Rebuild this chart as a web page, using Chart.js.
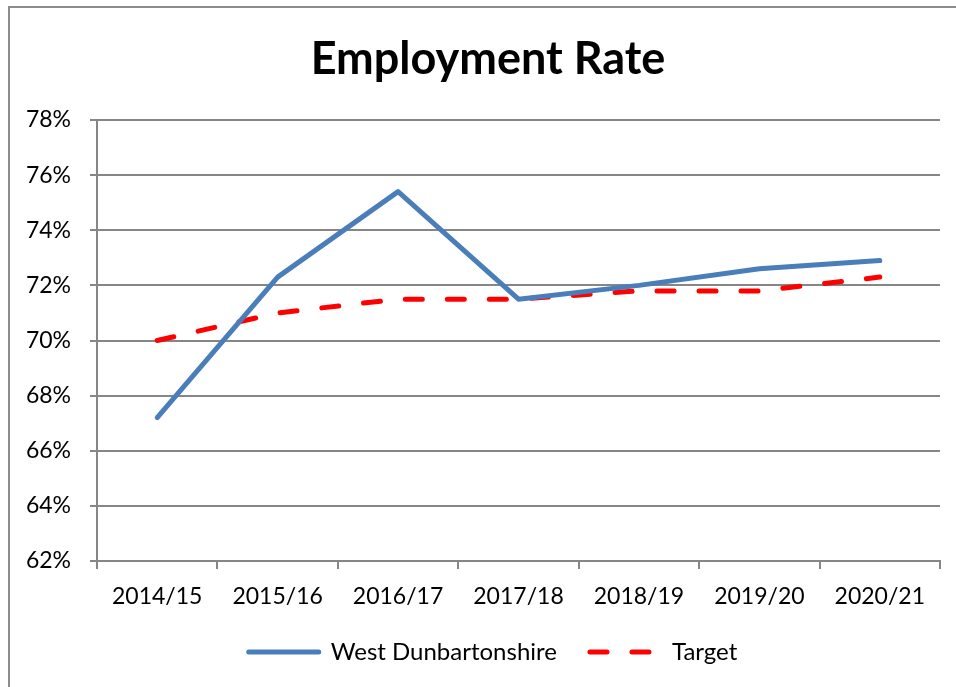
<!DOCTYPE html>
<html>
<head>
<meta charset="utf-8">
<script src="https://cdn.jsdelivr.net/npm/chart.js@4.4.1/dist/chart.umd.min.js"></script>
<style>
  html, body { margin: 0; padding: 0; background: #fff; }
  #frame { position: absolute; left: 8px; top: 6px; width: 2000px; height: 2000px;
           border-left: 2px solid #8c8c8c; border-top: 2px solid #8c8c8c; }
  #wrap { position: absolute; left: 0; top: 0; width: 956px; height: 687px; }
</style>
</head>
<body>
<div id="frame"></div>
<div id="wrap"><canvas id="employmentChart" width="956" height="687"></canvas></div>
<script>
// Employment Rate - West Dunbartonshire vs target

const years = ['2014/15', '2015/16', '2016/17', '2017/18', '2018/19', '2019/20', '2020/21'];
const westDunbartonshire = [67.2, 72.3, 75.4, 71.5, 72.0, 72.6, 72.9];
const target = [70.0, 71.0, 71.5, 71.5, 71.8, 71.8, 72.3];
const yMin = 62;
const yMax = 78;
const yStep = 2;

const gridColour = '#868686';
const fontFamily = 'Lato, "Open Sans", sans-serif';

// title and legend are centred a little right of the plot, like the original
const shiftBoxes = {
    id: 'shiftBoxes',
    afterLayout(chart) {
        if (chart.titleBlock) {
            chart.titleBlock.left = 36;
        }
        if (chart.legend) {
            chart.legend.left = 46;
        }
    }
};

// point-style legend items lose the dataset dash, so copy it back
function legendLabels(chart) {
    const items = Chart.defaults.plugins.legend.labels.generateLabels(chart);
    items.forEach((item) => {
        const ds = chart.data.datasets[item.datasetIndex];
        item.lineDash = ds.borderDash || [];
        item.lineCap = 'round';
        item.lineWidth = ds.borderWidth;
        item.strokeStyle = ds.borderColor;
    });
    return items;
}

const ctx = document.getElementById('employmentChart').getContext('2d');

const chart = new Chart(ctx, {
    type: 'line',
    data: {
        labels: years,
        datasets: [
            {
                label: 'West Dunbartonshire',
                data: westDunbartonshire,
                borderColor: '#4a7ebb',
                backgroundColor: '#4a7ebb',
                borderWidth: 5,
                borderCapStyle: 'round',
                borderJoinStyle: 'round',
                pointRadius: 0,
                tension: 0
            },
            {
                label: 'Target',
                data: target,
                borderColor: '#ff0000',
                backgroundColor: '#ff0000',
                borderWidth: 5,
                borderDash: [17, 25],
                borderCapStyle: 'round',
                borderJoinStyle: 'round',
                pointRadius: 0,
                tension: 0
            }
        ]
    },
    options: {
        responsive: false,
        animation: false,
        layout: {
            padding: { left: 0, right: 16, top: 0, bottom: 13 }
        },
        plugins: {
            title: {
                display: true,
                text: 'Employment Rate',
                color: '#000',
                font: { family: fontFamily, size: 45, weight: 'bold', lineHeight: 1.2 },
                padding: { top: 32, bottom: 34 }
            },
            legend: {
                display: true,
                position: 'bottom',
                labels: {
                    color: '#000',
                    font: { family: fontFamily, size: 24 },
                    usePointStyle: true,
                    pointStyle: 'line',
                    pointStyleWidth: 70,
                    padding: 33,
                    generateLabels: legendLabels
                }
            },
            tooltip: { enabled: false }
        },
        scales: {
            x: {
                offset: true,
                grid: {
                    offset: true,
                    drawOnChartArea: false,
                    drawTicks: true,
                    tickLength: 8,
                    color: gridColour,
                    lineWidth: 2
                },
                border: { display: true, color: gridColour, width: 2 },
                ticks: {
                    color: '#000',
                    font: { family: fontFamily, size: 23 },
                    padding: 14,
                    maxRotation: 0
                },
                afterFit: (scale) => { scale.height = 46; }
            },
            y: {
                min: yMin,
                max: yMax,
                grid: {
                    color: gridColour,
                    lineWidth: 2,
                    tickLength: 7
                },
                border: { display: true, color: gridColour, width: 2 },
                ticks: {
                    stepSize: yStep,
                    color: '#000',
                    font: { family: fontFamily, size: 23 },
                    padding: 19,
                    callback: (value) => value + '%'
                },
                afterFit: (scale) => { scale.width = 97; }
            }
        }
    },
    plugins: [shiftBoxes]
});
</script>
</body>
</html>
